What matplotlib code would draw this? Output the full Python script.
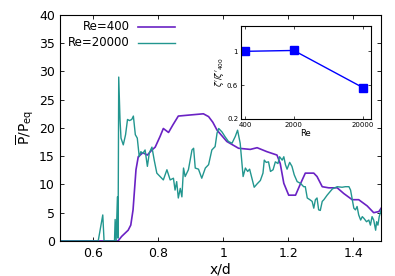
import matplotlib

matplotlib.use("Agg")
import matplotlib.pyplot as plt

COR_400 = "#6a22c4"
COR_20000 = "#22968f"
COR_INSET = "#0000ff"

plt.rcParams.update({
    "font.family": "DejaVu Sans",
    "mathtext.fontset": "dejavusans",
    "xtick.direction": "in",
    "ytick.direction": "in",
    "xtick.top": True,
    "ytick.right": True,
})

# Re=400
x_400 = [0.5, 0.677, 0.688, 0.708, 0.716, 0.723, 0.732, 0.739, 0.753, 0.767, 0.781,
         0.791, 0.806, 0.816, 0.832, 0.845, 0.862, 0.90, 0.939, 0.955, 0.968, 0.981,
         1.011, 1.047, 1.083, 1.104, 1.134, 1.165, 1.175, 1.186, 1.201, 1.222, 1.237,
         1.252, 1.278, 1.288, 1.304, 1.324, 1.350, 1.370, 1.396, 1.416, 1.442, 1.462,
         1.478, 1.485]
y_400 = [0.0, 0.0, 0.8, 1.9, 2.8, 5.5, 12.6, 14.9, 15.6, 15.2, 16.1,
         16.6, 18.5, 19.9, 19.2, 20.5, 22.1, 22.3, 22.5, 22.0, 21.0, 19.6,
         17.6, 16.4, 16.2, 16.5, 15.8, 15.2, 13.7, 10.2, 8.1, 8.1, 10.1,
         12.0, 12.0, 11.4, 9.6, 9.4, 9.4, 8.4, 7.3, 7.3, 6.2, 5.0,
         5.2, 5.8]

# Re=20000
x_20000 = [0.5, 0.616, 0.630, 0.634, 0.666, 0.668, 0.671, 0.675, 0.677, 0.679,
           0.683, 0.686, 0.693, 0.700, 0.706, 0.712, 0.719, 0.724, 0.730, 0.736,
           0.742, 0.747, 0.753, 0.760, 0.767, 0.773, 0.781, 0.788, 0.796, 0.806,
           0.816, 0.827, 0.837, 0.847, 0.852, 0.857, 0.862, 0.868, 0.873, 0.878,
           0.883, 0.893, 0.904, 0.909, 0.914, 0.924, 0.934, 0.945, 0.955, 0.965,
           0.975, 0.981, 0.986, 0.996, 1.006, 1.016, 1.027, 1.037, 1.044, 1.052,
           1.061, 1.068, 1.075, 1.081, 1.088, 1.095, 1.104, 1.114, 1.122, 1.126,
           1.132, 1.139, 1.145, 1.153, 1.160, 1.168, 1.173, 1.181, 1.186, 1.191,
           1.196, 1.204, 1.211, 1.218, 1.227, 1.237, 1.247, 1.252, 1.258, 1.266,
           1.273, 1.278, 1.283, 1.288, 1.293, 1.298, 1.304, 1.309, 1.319, 1.335,
           1.350, 1.365, 1.375, 1.386, 1.391, 1.401, 1.406, 1.411, 1.416, 1.422,
           1.427, 1.432, 1.440, 1.447, 1.452, 1.457, 1.462, 1.468, 1.471, 1.475,
           1.479, 1.485]
y_20000 = [0.0, 0.0, 4.6, 0.0, 0.0, 3.8, 0.0, 7.8, 0.5, 29.0,
           21.4, 18.2, 17.0, 18.8, 21.5, 21.3, 21.5, 22.1, 18.8, 18.2,
           14.9, 15.8, 15.5, 16.1, 13.2, 15.6, 16.6, 14.3, 12.0, 11.4,
           10.8, 12.6, 10.8, 11.1, 9.0, 10.5, 7.6, 9.3, 7.8, 12.9,
           11.4, 12.6, 16.1, 16.4, 12.9, 12.7, 11.1, 12.9, 13.5, 16.1,
           16.7, 19.1, 19.9, 19.3, 18.4, 17.6, 17.3, 18.5, 19.6, 17.3,
           11.4, 12.9, 12.3, 12.7, 11.1, 9.5, 10.1, 10.7, 12.0, 14.3,
           13.9, 14.0, 12.3, 12.6, 14.0, 13.7, 14.9, 14.3, 14.9, 13.5,
           12.7, 13.9, 13.2, 11.7, 10.5, 10.2, 9.6, 9.6, 7.6, 7.3,
           7.0, 5.8, 7.3, 7.6, 5.5, 5.4, 7.0, 7.3, 8.1, 9.2,
           9.6, 9.5, 9.6, 9.6, 9.0, 5.8, 5.5, 6.1, 4.6, 3.7,
           4.3, 4.0, 3.4, 3.7, 2.8, 4.3, 3.7, 1.9, 3.4, 2.8,
           4.3, 5.5]

# inset
re_vals = [400, 2000, 20000]
zeta_ratio = [1.0, 1.01, 0.57]
re_labels = ["400", "2000", "20000"]

fig = plt.figure(figsize=(3.95, 2.76), dpi=100)
ax = fig.add_axes([0.153, 0.127, 0.812, 0.819])
ax.plot(x_400, y_400, color=COR_400, lw=1.2)
ax.plot(x_20000, y_20000, color=COR_20000, lw=1.0)
ax.set_xlim(0.5, 1.485)
ax.set_ylim(0, 40)
ax.set_xticks([0.6, 0.8, 1.0, 1.2, 1.4])
ax.set_xticklabels(["0.6", "0.8", "1", "1.2", "1.4"])
ax.set_yticks(range(0, 41, 5))
ax.tick_params(labelsize=9, length=3, width=0.6, pad=4)
ax.set_xlabel("x/d", fontsize=10, labelpad=2)
ax.set_ylabel(r"$\overline{\mathrm{P}}/\mathrm{P}_{\mathrm{eq}}$", fontsize=10, labelpad=2)
for s in ax.spines.values():
    s.set_linewidth(0.8)

# legenda estilo gnuplot: texto alinhado a direita, linha depois
leg_items = [("Re=400", COR_400, 1.2, 0.947), ("Re=20000", COR_20000, 1.0, 0.876)]
for rotulo, cor, lw, yy in leg_items:
    ax.text(0.215, yy, rotulo, transform=ax.transAxes, ha="right", va="center",
            fontsize=8.5)
    ax.plot([0.243, 0.358], [yy, yy], transform=ax.transAxes, color=cor, lw=lw)

ins = fig.add_axes([0.610, 0.569, 0.329, 0.337])
ins.plot(re_vals, zeta_ratio, color=COR_INSET, lw=1.0, marker="s", ms=5.5)
ins.set_xscale("log")
ins.set_xlim(345, 26000)
ins.set_ylim(0.2, 1.3)
ins.set_xticks(re_vals)
ins.set_xticklabels(re_labels)
ins.minorticks_off()
ins.set_yticks([0.2, 0.6, 1.0])
ins.set_yticklabels(["0.2", "0.6", "1"])
ins.tick_params(labelsize=5, length=2.5, width=0.5, pad=2)
ins.set_xlabel("Re", fontsize=6, labelpad=1)
ins.set_ylabel(r"$\zeta'/\zeta'_{400}$", fontsize=6, labelpad=1)
for s in ins.spines.values():
    s.set_linewidth(0.8)

fig.savefig("out.png", dpi=100)
